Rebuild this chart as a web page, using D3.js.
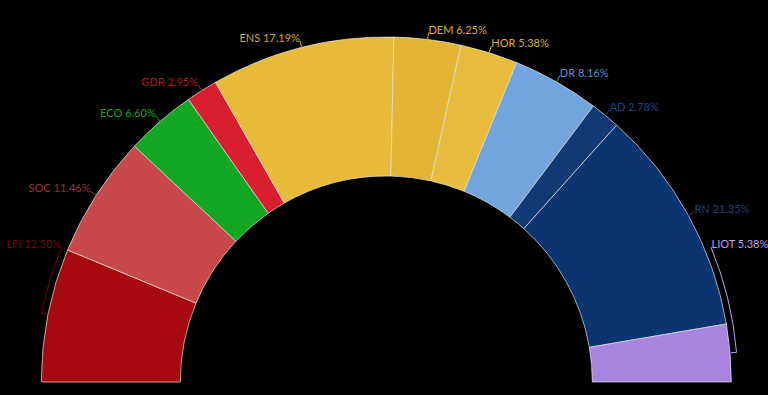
<!DOCTYPE html>
<html>
<head>
<meta charset="utf-8">
<script src="https://cdn.jsdelivr.net/npm/d3@7"></script>
<style>
  html, body { margin: 0; padding: 0; background: #000; }
  svg { display: block; }
</style>
</head>
<body>
<svg id="chart" width="768" height="395"></svg>
<script>
// ---- data ----
const parties = ["LFI", "SOC", "ECO", "GDR", "ENS", "DEM", "HOR", "DR", "AD", "RN", "LIOT"];
const shares = [12.50, 11.46, 6.60, 2.95, 17.19, 6.25, 5.38, 8.16, 2.78, 21.35, 5.38];
const fillColors = ["#a70a0e", "#c9494b", "#12a623", "#d91f2d", "#e8bb3a", "#e3b534", "#e8bd3e", "#72a5de", "#0f3a75", "#0b3571", "#a785df"];
const labelColors = ["#6e0a0c", "#9c3434", "#17a025", "#b01c26", "#d2a52a", "#d7ad2d", "#d7ad2d", "#5f8ec9", "#1f4583", "#1f4078", "#b8a0ec"];

// ---- layout ----
const W = 768, H = 395;
const cx = 386.3, cy = 382;
const rOuter = 345, rInner = 206;
const rLabel = 352, rConn = 349.5;
const minLabelFromHorizontal = 22.5 * Math.PI / 180;

const data = parties.map((p, i) => ({ party: p, share: shares[i], fill: fillColors[i], lc: labelColors[i] }));

const svg = d3.select("#chart");
svg.append("rect").attr("width", W).attr("height", H).attr("fill", "#000");
const g = svg.append("g").attr("transform", `translate(${cx},${cy})`);

const pie = d3.pie().sort(null).value(d => d.share)
  .startAngle(-Math.PI / 2).endAngle(Math.PI / 2);
const arcs = pie(data);

const arcGen = d3.arc().innerRadius(rInner).outerRadius(rOuter);

g.selectAll("path.slice").data(arcs).enter().append("path")
  .attr("class", "slice")
  .attr("d", arcGen)
  .attr("fill", d => d.data.fill)
  .attr("stroke", "rgba(235,235,235,0.75)")
  .attr("stroke-width", 0.9);

const pt = (r, a) => [r * Math.sin(a), -r * Math.cos(a)];
const maxA = Math.PI / 2 - minLabelFromHorizontal;

arcs.forEach(d => {
  const mid = (d.startAngle + d.endAngle) / 2;
  const la = Math.max(-maxA, Math.min(maxA, mid));
  const right = mid > 0;
  let path;
  if (la === mid) {
    const p0 = pt(rOuter, mid), p1 = pt(rLabel, mid);
    path = `M${p0[0]},${p0[1]}L${p1[0]},${p1[1]}`;
  } else {
    const p0 = pt(rOuter + 1, mid), p1 = pt(rConn + 2, mid);
    const p2 = pt(rConn + 2, la), p3 = pt(rLabel, la);
    const sweep = la > mid ? 1 : 0;
    path = `M${p0[0]},${p0[1]}L${p1[0]},${p1[1]}A${rConn + 2},${rConn + 2} 0 0 ${sweep} ${p2[0]},${p2[1]}L${p3[0]},${p3[1]}`;
  }
  g.append("path").attr("d", path)
    .attr("fill", "none").attr("stroke", d.data.lc).attr("stroke-width", 1);

  const lp = pt(rLabel, la);
  g.append("text")
    .attr("x", lp[0] + (right ? 0 : 0))
    .attr("y", lp[1] + 1)
    .attr("text-anchor", right ? "start" : "end")
    .attr("fill", d.data.lc)
    .attr("font-family", "Lato, 'Open Sans', sans-serif")
    .attr("font-size", 11)
    .text(`${d.data.party} ${d3.format(".2f")(d.data.share)}%`);
});
</script>
</body>
</html>
